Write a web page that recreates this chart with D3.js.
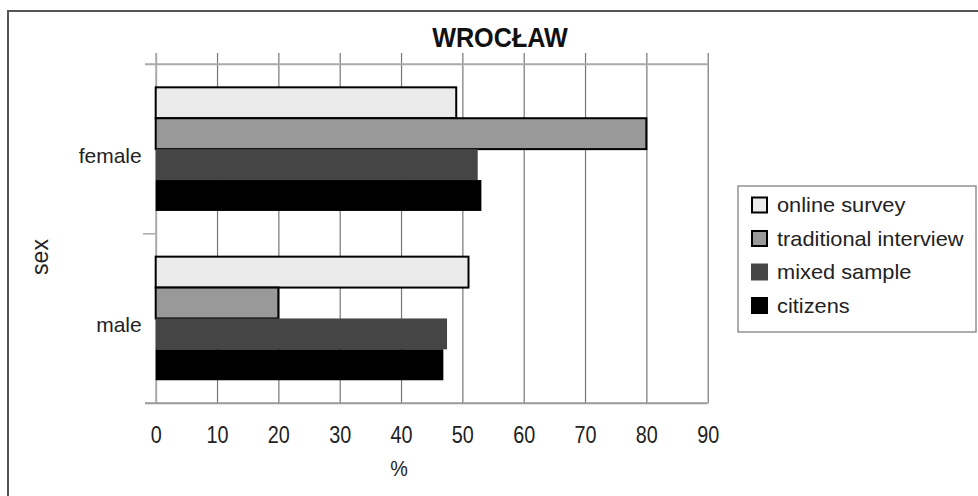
<!DOCTYPE html>
<html>
<head>
<meta charset="utf-8">
<script src="https://cdn.jsdelivr.net/npm/d3@7"></script>
<style>
  html, body { margin: 0; padding: 0; background: #fff; }
  svg { display: block; font-family: "Liberation Sans", Arial, sans-serif; }
</style>
</head>
<body>
<svg id="chart" width="978" height="496"></svg>
<script>
const categories = ["female", "male"];
const seriesNames = ["online survey", "traditional interview", "mixed sample", "citizens"];
const onlineSurvey = [49, 51];
const traditionalInterview = [80, 20];
const mixedSample = [52.5, 47.5];
const citizens = [53.1, 46.9];
const xTicks = [0, 10, 20, 30, 40, 50, 60, 70, 80, 90];
const titleText = "WROCŁAW";
const xTitle = "%";
const yTitle = "sex";

const seriesValues = [onlineSurvey, traditionalInterview, mixedSample, citizens];
const fills = ["#ebebeb", "#999999", "#454545", "#000000"];
const strokes = ["#000", "#000", "none", "none"];

const svg = d3.select("#chart");
const plotTop = 64.3, plotBottom = 403.3, tickTop = 53;

// outer frame
svg.append("rect").attr("x", 8).attr("y", 11).attr("width", 1100).attr("height", 600)
  .attr("fill", "none").attr("stroke", "#555").attr("stroke-width", 2);

const x = d3.scaleLinear().domain([0, 90]).range([155.7, 707.7]);
const y = d3.scaleBand().domain(categories).range([plotTop, plotBottom])
  .paddingInner(0.27).paddingOuter(0.136);
const ys = d3.scaleBand().domain(seriesNames).range([0, y.bandwidth()]);

// gridlines
const grid = svg.append("g").attr("transform", `translate(0,${tickTop})`)
  .call(d3.axisTop(x).tickValues(xTicks).tickSize(-(plotBottom - tickTop)).tickFormat(""));
grid.select(".domain").remove();
grid.selectAll(".tick line").attr("stroke", d => d === 0 ? "#aaa" : "#777")
  .attr("stroke-width", d => d === 0 ? 2 : 1.2);

// top line
svg.append("line").attr("x1", 145).attr("x2", x(90)).attr("y1", plotTop).attr("y2", plotTop)
  .attr("stroke", "#aaa").attr("stroke-width", 2);

// category boundary ticks
const bounds = categories.map(c => y(c) - y.step() * y.paddingInner() / 2);
bounds.push(plotBottom);
svg.selectAll(".cattick").data(bounds.slice(1, -1)).enter().append("line")
  .attr("x1", 143).attr("x2", x(0)).attr("y1", d => d).attr("y2", d => d)
  .attr("stroke", "#aaa").attr("stroke-width", 1.5);

// bars
categories.forEach((c, ci) => {
  seriesNames.forEach((s, si) => {
    svg.append("rect")
      .attr("x", x(0))
      .attr("y", y(c) + ys(s))
      .attr("width", x(seriesValues[si][ci]) - x(0))
      .attr("height", ys.bandwidth())
      .attr("fill", fills[si])
      .attr("stroke", strokes[si])
      .attr("stroke-width", 2);
  });
});

svg.append("line").attr("x1", 145).attr("x2", x(90)).attr("y1", plotBottom).attr("y2", plotBottom)
  .attr("stroke", "#999").attr("stroke-width", 2);

// x axis labels
const xa = svg.append("g").attr("transform", `translate(0,${plotBottom})`)
  .call(d3.axisBottom(x).tickValues(xTicks).tickSize(0).tickPadding(23));
xa.select(".domain").remove();
xa.selectAll("text").attr("font-size", 23).attr("fill", "#222")
  .attr("transform", "scale(0.86,1)")
  .attr("font-family", "Liberation Sans, Arial, sans-serif");

// y axis labels
const ya = svg.append("g").attr("transform", `translate(${x(0) - 14},0)`)
  .call(d3.axisLeft(y).tickSize(0).tickPadding(0));
ya.select(".domain").remove();
ya.selectAll("text").attr("font-size", 21).attr("fill", "#222").attr("dy", "0.65em")
  .attr("font-family", "Liberation Sans, Arial, sans-serif");

// titles
svg.append("text").attr("transform", "translate(500,47) scale(0.9,1)").attr("text-anchor", "middle")
  .attr("font-size", 28).attr("font-weight", "bold").attr("fill", "#111").text(titleText);
svg.append("text").attr("transform", "translate(399,476) scale(0.9,1)").attr("text-anchor", "middle")
  .attr("font-size", 22).attr("fill", "#222").text(xTitle);
svg.append("text").attr("transform", "translate(48,257) rotate(-90)").attr("text-anchor", "middle")
  .attr("font-size", 23).attr("fill", "#222").text(yTitle);

// legend
const lg = svg.append("g");
lg.append("rect").attr("x", 738).attr("y", 186).attr("width", 238).attr("height", 146)
  .attr("fill", "#fff").attr("stroke", "#777").attr("stroke-width", 1.2);
const rowY = d3.scalePoint().domain(seriesNames).range([205, 305.5]);
seriesNames.forEach((s, i) => {
  lg.append("rect").attr("x", 752).attr("y", rowY(s) - 7.5).attr("width", 15).attr("height", 15)
    .attr("fill", fills[i]).attr("stroke", strokes[i] === "none" ? fills[i] : "#000").attr("stroke-width", 2);
  lg.append("text").attr("transform", `translate(777,${rowY(s) + 7}) scale(1.09,1)`)
    .attr("font-size", 20).attr("fill", "#222").text(s);
});
</script>
</body>
</html>
